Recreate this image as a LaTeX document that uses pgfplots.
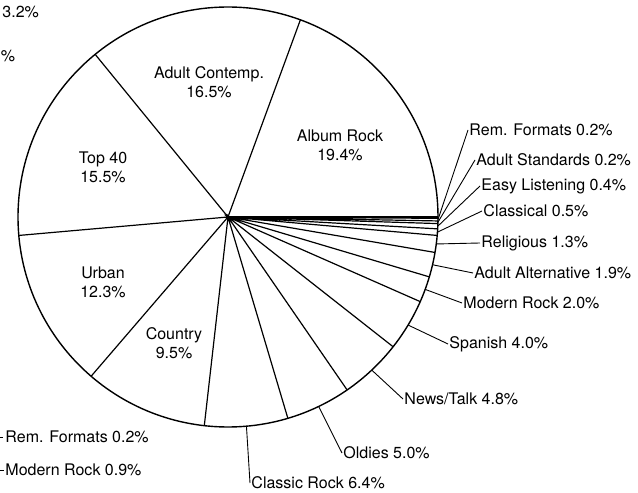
\documentclass[border=0pt]{standalone}
\usepackage{pgfplots}
\pgfplotsset{compat=1.18}
\usepgfplotslibrary{polar}
\usepackage{fontspec}
\setmainfont{TeX Gyre Heros}
\begin{document}
\begin{tikzpicture}
\useasboundingbox (0,0) rectangle (638pt,493pt);
\clip (0,0) rectangle (638pt,493pt);
\begin{polaraxis}[
  at={(228pt,276pt)}, anchor=center,
  width=420pt, height=420pt, scale only axis,
  xmin=0, xmax=360, ymin=0, ymax=1,
  xtick=\empty, ytick=\empty,
  axis line style={line width=1.4pt},
  clip=false,
]
% slice boundaries (cumulative share x 3.6 degrees)
\addplot[black, line width=1.2pt, no marks] coordinates {
 (0,1) (0,0) (69.84,1) (0,0) (129.24,1) (0,0) (185.04,1) (0,0)
 (229.32,1) (0,0) (263.52,1) (0,0) (286.56,1) (0,0) (304.56,1) (0,0)
 (321.84,1) (0,0) (336.24,1) (0,0) (343.44,1) (0,0) (350.28,1) (0,0)
 (354.96,1) (0,0) (356.76,1) (0,0) (358.2,1) (0,0) (358.92,1) (0,0)
 (359.64,1)
};
\coordinate (cr) at (axis cs:275.04,1);
\coordinate (ol) at (axis cs:295.56,1);
\coordinate (nt) at (axis cs:313.2,1);
\coordinate (sp) at (axis cs:329.04,1);
\coordinate (mr) at (axis cs:339.84,1);
\coordinate (aa) at (axis cs:346.86,1);
\coordinate (re) at (axis cs:352.62,1);
\coordinate (cl) at (axis cs:355.86,1);
\coordinate (el) at (axis cs:357.48,1);
\coordinate (as) at (axis cs:358.56,1);
\coordinate (rf) at (axis cs:359.28,1);
\end{polaraxis}
\fontsize{16}{19}\selectfont
\begin{scope}[every node/.style={inner sep=0pt, align=center}]
\node at (340pt,348pt) {Album Rock\\19.4\%};
\node at (209pt,411pt) {Adult Contemp.\\16.5\%};
\node at (103pt,326pt) {Top 40\\15.5\%};
\node at (103pt,211pt) {Urban\\12.3\%};
\node at (174pt,150pt) {Country\\9.5\%};
\end{scope}
\begin{scope}[line width=0.9pt, every node/.style={inner sep=0pt, anchor=mid west}]
\draw (rf) -- (468pt,363pt) node[right=1pt] {Rem. Formats 0.2\%};
\draw (as) -- (475pt,333pt) node[right=1pt] {Adult Standards 0.2\%};
\draw (el) -- (480pt,307pt) node[right=1pt] {Easy Listening 0.4\%};
\draw (cl) -- (482pt,282pt) node[right=1pt] {Classical 0.5\%};
\draw (re) -- (480pt,250pt) node[right=1pt] {Religious 1.3\%};
\draw (aa) -- (473pt,220pt) node[right=1pt] {Adult Alternative 1.9\%};
\draw (mr) -- (462pt,190pt) node[right=1pt] {Modern Rock 2.0\%};
\draw (sp) -- (448pt,149pt) node[right=1pt] {Spanish 4.0\%};
\draw (nt) -- (403pt,94pt) node[right=1pt] {News/Talk 4.8\%};
\draw (ol) -- (342pt,40pt) node[right=1pt] {Oldies 5.0\%};
\draw (cr) -- (250pt,10pt) node[right=1pt] {Classic Rock 6.4\%};
% labels of a neighbouring chart, cut at the left edge in the reference
\node at (2pt,480pt) {3.2\%};
\node at (0.5pt,436pt) {\%};
\draw (-2pt,56pt) -- (3pt,56pt) node[right=2pt] {Rem. Formats 0.2\%};
\draw (-2pt,23pt) -- (4pt,23pt) node[right=1pt] {Modern Rock 0.9\%};
\end{scope}
\end{tikzpicture}
\end{document}
